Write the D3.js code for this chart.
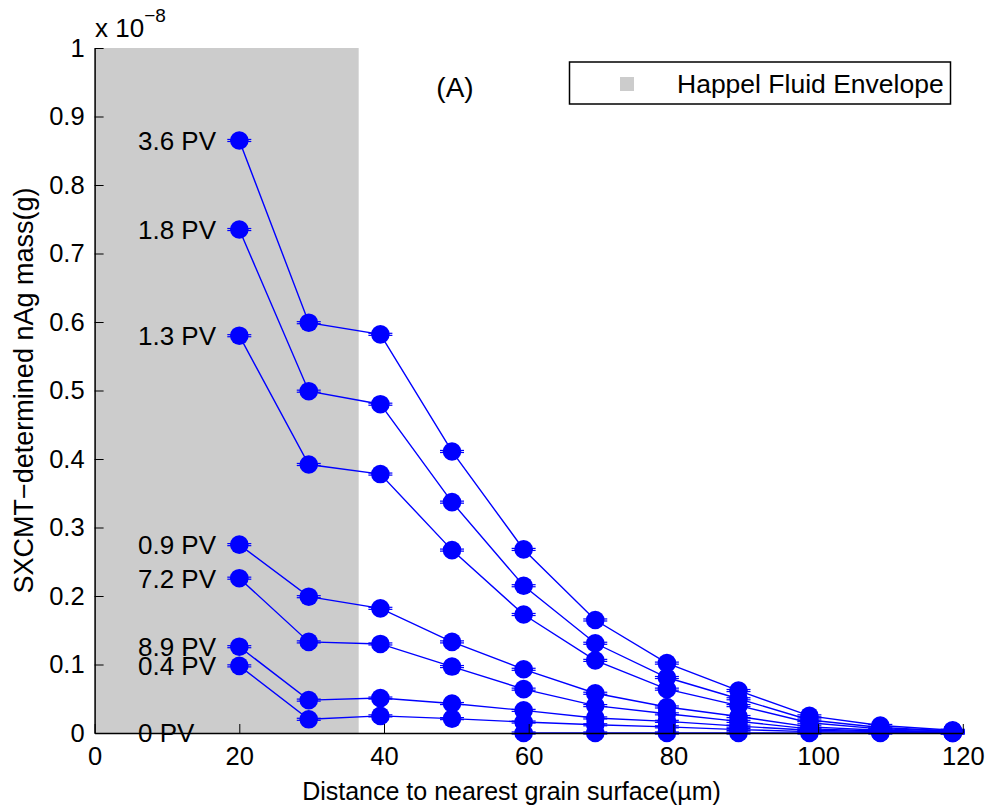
<!DOCTYPE html>
<html>
<head>
<meta charset="utf-8">
<script src="https://cdn.jsdelivr.net/npm/d3@7"></script>
<style>
  html, body { margin: 0; padding: 0; background: #ffffff; }
  svg { display: block; }
  text { font-family: "Liberation Sans", Arial, Helvetica, sans-serif; fill: #000; }
</style>
</head>
<body>
<svg id="chart" width="992" height="811"></svg>
<script>
// Distance to nearest grain surface (µm) for each sampling shell
const distances = [20, 29.6, 39.5, 49.4, 59.3, 69.2, 79.1, 89.0, 98.8, 108.6, 118.6];

// Pore-volume labels, in drawing order
const seriesNames = ["3.6 PV", "1.8 PV", "1.3 PV", "0.9 PV", "7.2 PV", "8.9 PV", "0.4 PV", "0 PV"];

// nAg mass per shell, in units of 1e-8 g (null = not measured)
const mass36 = [0.865, 0.599, 0.582, 0.411, 0.268, 0.165, 0.102, 0.062, 0.025, 0.011, 0.004];
const mass18 = [0.735, 0.499, 0.480, 0.337, 0.215, 0.131, 0.081, 0.050, 0.019, 0.008, 0.003];
const mass13 = [0.580, 0.392, 0.378, 0.267, 0.173, 0.106, 0.064, 0.040, 0.015, 0.006, 0.003];
const mass09 = [0.275, 0.199, 0.182, 0.133, 0.093, 0.058, 0.038, 0.024, 0.009, 0.004, 0.002];
const mass72 = [0.226, 0.133, 0.130, 0.097, 0.064, 0.040, 0.028, 0.017, 0.006, 0.003, 0.001];
const mass89 = [0.126, 0.048, 0.051, 0.043, 0.033, 0.022, 0.017, 0.010, 0.004, 0.002, 0.001];
const mass04 = [0.098, 0.020, 0.025, 0.021, 0.016, 0.012, 0.009, 0.005, 0.002, 0.001, 0.000];
const mass00 = [null, null, null, null, 0, 0, 0, 0, 0, 0, 0];

// Half-width of the error bars (1e-8 g)
const errHalf = 0.0015;

// Happel fluid envelope thickness (µm)
const envelopeEdge = 36.5;

// Axis ticks
const xTicks = [0, 20, 40, 60, 80, 100, 120];
const yTicks = [0, 0.1, 0.2, 0.3, 0.4, 0.5, 0.6, 0.7, 0.8, 0.9, 1];

const seriesValues = [mass36, mass18, mass13, mass09, mass72, mass89, mass04, mass00];

const svg = d3.select("#chart");
const blue = "#0000ff";

const x = d3.scaleLinear().domain([0, 120]).range([94.6, 962.8]);
const y = d3.scaleLinear().domain([0, 1]).range([733, 48]);

// Happel envelope shading
svg.append("rect")
  .attr("x", x(0)).attr("y", y(1))
  .attr("width", x(envelopeEdge) - x(0))
  .attr("height", y(0) - y(1))
  .attr("fill", "#cccccc");

// Series
const line = d3.line()
  .defined(d => d.v !== null)
  .x(d => x(d.x)).y(d => y(d.v));

const plot = svg.append("g");
seriesValues.forEach((vals, i) => {
  const pts = vals.map((v, j) => ({ x: distances[j], v }));
  const g = plot.append("g");
  g.append("path")
    .attr("d", line(pts))
    .attr("fill", "none")
    .attr("stroke", blue)
    .attr("stroke-width", 1.4);
  const valid = pts.filter(d => d.v !== null);
  // error bars with caps
  const eb = g.selectAll("g.eb").data(valid).enter().append("g");
  eb.append("line")
    .attr("x1", d => x(d.x)).attr("x2", d => x(d.x))
    .attr("y1", d => y(d.v - errHalf)).attr("y2", d => y(d.v + errHalf))
    .attr("stroke", blue).attr("stroke-width", 1.2);
  [-errHalf, errHalf].forEach(e => {
    eb.append("line")
      .attr("x1", d => x(d.x) - 12).attr("x2", d => x(d.x) + 12)
      .attr("y1", d => y(d.v + e)).attr("y2", d => y(d.v + e))
      .attr("stroke", blue).attr("stroke-width", 1.2);
  });
  g.selectAll("circle").data(valid).enter().append("circle")
    .attr("cx", d => x(d.x)).attr("cy", d => y(d.v))
    .attr("r", 9.3)
    .attr("fill", blue);
  // series label beside the first shell
  const labelV = vals[0] !== null ? vals[0] : 0;
  svg.append("text")
    .attr("x", x(6)).attr("y", y(labelV))
    .attr("dy", "0.36em")
    .attr("font-size", 26)
    .text(seriesNames[i]);
});

// Axes (drawn over the data)
const xAxis = d3.axisBottom(x).tickValues(xTicks).tickSizeInner(-9).tickSizeOuter(0);
const yAxis = d3.axisLeft(y).tickValues(yTicks).tickSizeInner(-9).tickSizeOuter(0)
  .tickFormat(d => d3.format("~g")(d));

const gx = svg.append("g").attr("transform", `translate(0,${y(0)})`).call(xAxis);
const gy = svg.append("g").attr("transform", `translate(${x(0)},0)`).call(yAxis);
[gx, gy].forEach(g => {
  g.select(".domain").attr("stroke", "#000").attr("stroke-width", 1.5);
  g.selectAll(".tick line").attr("stroke", "#000").attr("stroke-width", 1);
  g.selectAll(".tick text")
    .attr("font-size", 25.5)
    .attr("font-family", "'Liberation Sans', Arial, Helvetica, sans-serif")
    .attr("fill", "#000");
});
gy.selectAll(".tick text").attr("x", -10);
gx.selectAll(".tick text").attr("y", 14);

// Exponent label
const expo = svg.append("text").attr("x", 95).attr("y", 37).attr("font-size", 26);
expo.append("tspan").text("x 10");
expo.append("tspan").attr("dy", -15).attr("font-size", 19).text("\u22128");

// Axis titles
svg.append("text")
  .attr("x", 511.5).attr("y", 800)
  .attr("text-anchor", "middle")
  .attr("font-size", 25)
  .text("Distance to nearest grain surface(\u00b5m)");

svg.append("text")
  .attr("transform", `translate(33,${(y(0) + y(1)) / 2}) rotate(-90)`)
  .attr("text-anchor", "middle")
  .attr("font-size", 27)
  .text("SXCMT\u2212determined nAg mass(g)");

// Panel tag
svg.append("text")
  .attr("x", 455).attr("y", 97)
  .attr("text-anchor", "middle")
  .attr("font-size", 28)
  .text("(A)");

// Legend
const lg = svg.append("g");
lg.append("rect")
  .attr("x", 569.5).attr("y", 62).attr("width", 381).attr("height", 42)
  .attr("fill", "#fff").attr("stroke", "#000").attr("stroke-width", 1.5);
lg.append("rect")
  .attr("x", 620).attr("y", 77).attr("width", 14).attr("height", 14)
  .attr("fill", "#cccccc");
lg.append("text")
  .attr("x", 677).attr("y", 93)
  .attr("font-size", 26.5)
  .text("Happel Fluid Envelope");
</script>
</body>
</html>
